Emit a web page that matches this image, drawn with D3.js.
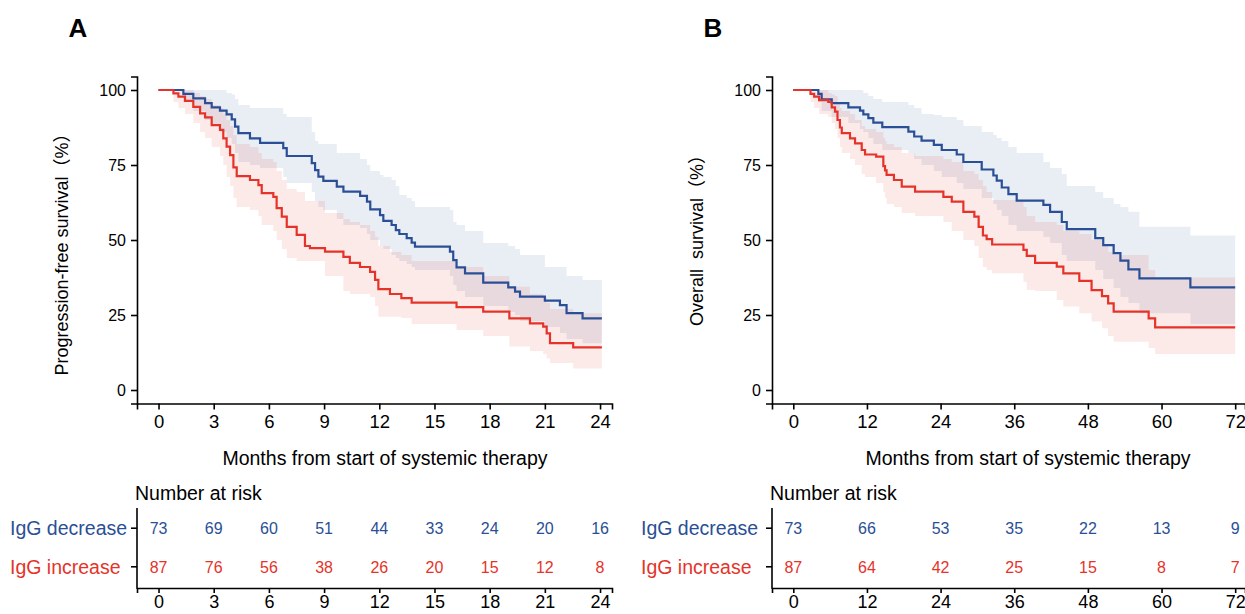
<!DOCTYPE html>
<html>
<head>
<meta charset="utf-8">
<script src="https://cdn.jsdelivr.net/npm/d3@7"></script>
<style>
  body { margin: 0; background: #fff; }
  text { font-family: "Liberation Sans", Arial, "Noto Sans CJK SC", sans-serif; }
</style>
</head>
<body>
<svg id="chart" width="1245" height="614"></svg>
<script>
// ---- data ----
const groups = ["IgG decrease", "IgG increase"];

// A: progression-free survival, IgG decrease
const pfsDecTime = [0,1.35,1.89,2.53,2.89,3.34,3.7,3.98,4.16,4.34,4.97,5.52,6.78,6.97,8.33,8.51,8.69,8.96,9.69,10.05,10.96,11.33,11.51,12.04,12.22,12.67,12.9,13.09,13.49,13.76,13.94,15.84,16.02,16.2,16.66,17.65,19.01,19.38,19.65,21.0,21.82,22.18,23.05];
const pfsDecSurv = [100,98.7,97.2,95.6,94.2,93.1,91.9,90.2,87.8,85.6,83.9,82.4,80.6,78,75.6,73.3,71.1,69.7,67.8,66.1,64.7,62.8,60.2,58.3,56.4,55,53.3,52,50.6,49.1,47.8,46.1,43.3,40.9,38.9,35.8,34.2,32.8,31.1,29.8,28.3,25.6,23.9];
const pfsDecLow  = [100,96,93,90,88,86,84,82,79,76,75,74,71,69,66,63,61,60,57,55,54,52,50,48,47,45,44,43,42,41,40,38,35,33,31,28,26,25,23,21,19,17,15.6];
const pfsDecHigh = [100,100,100,100,100,100,99,98.5,97,95,94,94,92,91,86,83,82,82,79,79,77,75,73,71.7,71,70,68,65,64,63,61,60,56,55,53,49,48,47,45,41,41,38,36.7];

// A: progression-free survival, IgG increase
const pfsIncTime = [0,0.81,1.08,1.44,1.89,2.26,2.53,2.89,3.34,3.52,3.7,3.89,4.07,4.25,4.97,5.43,5.61,6.24,6.42,6.7,6.97,7.51,7.96,8.23,9.05,10.05,10.4,10.95,11.5,11.77,11.95,12.58,13.2,13.76,16.2,17.65,19.07,20.19,20.91,21.1,21.28,22.54];
const pfsIncSurv = [100,98.9,97.8,96.4,94.4,92.2,90.9,88.3,86.7,83.9,81.1,78.3,74.2,71.3,70,68.3,65.6,64.4,60.6,57.8,54.4,51.7,48,47.3,46.1,44.4,42.4,41,39.4,36.7,33.6,32,30.6,29.1,27.6,26.1,23.9,22.2,21.1,18.9,15.6,14.2];
const pfsIncLow  = [100,96,94,92,89,86,84,81,78,75,71,68,64,61,60,58,55,53,50,47,44,43,43,43,38,33,32,32,31,28,24.4,24.4,24,22,20,18,14.5,13,12,10.5,9,7.2];
const pfsIncHigh = [100,100,100,100,99,98,97,95,94,92,90,88,85,82,81,79,77,76,73,70,67,66,63,63,59,57,56,55,53,51,48,46,45,43,41,38,34.4,32,31,29,27,25.6];
const pfsEnd = 24.1;

// B: overall survival, IgG decrease
const osDecTime = [0,4.08,4.62,6.26,8.97,10.87,11.41,12.23,13.04,14.5,18.75,19.7,20.9,22.9,24.19,26.63,27.71,30.7,32.6,33.15,33.97,35.05,36.4,40.75,41.84,43.75,44.56,49.2,50.5,52.2,53.3,54.6,56.4,64.7];
const osDecSurv = [100,98.7,96.9,95.6,94.2,93.1,91.9,90.6,89.1,87.6,86.1,84.5,83.1,81.7,80,78.5,76,73.5,71.5,69.8,67.5,65.3,63.1,61.7,59.4,56,53.6,50.6,48.3,45.6,43.1,40.2,37.2,34.2];
const osDecLow  = [100,96,93,91,89,87,86,84,82,80,79,77,75,73,71,69,67,64,62,60,58,55,53,51,49,45,43,40,37,34,31,29,25.6,22];
const osDecHigh = [100,100,100,100,100,100,99,98,97,96,95,94,92,91.7,91,90,88,86,85,84,83,81,79,76,74,72,68,66,64,62,61,59.4,54.4,51.5];

// B: overall survival, IgG increase
const osIncTime = [0,2.8,3.4,4.2,5.7,6.26,6.8,7.2,7.6,7.9,9.24,10.06,11.15,11.69,13.5,14.67,14.95,15.2,16.4,17.67,19.84,24.45,25.82,27.71,29.5,30.2,30.9,31.5,32.4,37.5,38.04,39.4,42.93,44,46.6,48.6,50.3,51.3,52.2,57.9,58.96];
const osIncSurv = [100,98.7,97.8,96.6,96,94.2,92.8,90,87.5,85.6,83.9,82.2,80,78.5,77.8,74.6,73.2,71.7,70,67.8,66.1,64.4,62.8,59.4,57.8,54.4,51.5,50.3,48.5,46.7,44.7,42.4,41.1,38.9,36.4,33.3,31.3,28.9,26.1,23.9,20.9];
const osIncLow  = [100,96,94,92,91,89,87,84,81,79,77,75,72,71,69,66,64,62,61,59,58,56,53,50,48,44,41,40,38.9,36,33.3,33,30,27.8,25.6,22.8,20.6,18,16.1,14,12];
const osIncHigh = [100,100,100,100,99,98.5,98,96,94,93,92,90,88,87,86,84,83,82,81,79,78,77,76,73,72,70,68,66,63.3,61,58,56,55,53,52,50,48,46,45,40,37.5];
const osEnd = 72;

// number at risk
const pfsRiskTimes = [0,3,6,9,12,15,18,21,24];
const pfsRiskDec = [73,69,60,51,44,33,24,20,16];
const pfsRiskInc = [87,76,56,38,26,20,15,12,8];
const osRiskTimes = [0,12,24,36,48,60,72];
const osRiskDec = [73,66,53,35,22,13,9];
const osRiskInc = [87,64,42,25,15,8,7];

const yTicks = [0,25,50,75,100];

// ---- drawing ----
const blue = "#2a4f96";
const red = "#e5332a";
const svg = d3.select("#chart");

function stepRows(time, surv, low, high, end) {
  const rows = time.map((t, i) => ({ t: t, s: surv[i], lo: low[i], hi: high[i] }));
  const last = rows[rows.length - 1];
  rows.push({ t: end, s: last.s, lo: last.lo, hi: last.hi });
  return rows;
}

function styleAxis(a, size) {
  a.selectAll("path,line").attr("stroke", "#000").attr("stroke-width", 1.6);
  a.selectAll("text").attr("font-size", size).attr("fill", "#000")
    .style("font-family", "'Liberation Sans', Arial, sans-serif");
}

function drawPanel(p) {
  const g = svg.append("g");
  const x = d3.scaleLinear().domain(p.xDomain).range(p.xRange);
  const y = d3.scaleLinear().domain([-4.5, 104.5]).range([403.5, 76.5]);

  const area = d3.area().curve(d3.curveStepAfter)
    .x(d => x(d.t)).y0(d => y(d.lo)).y1(d => y(d.hi));
  const line = d3.line().curve(d3.curveStepAfter)
    .x(d => x(d.t)).y(d => y(d.s));

  // confidence bands
  p.series.forEach(s => {
    g.append("path").datum(s.rows)
      .attr("d", area).attr("fill", s.color).attr("fill-opacity", 0.1);
  });
  // survival curves (increase drawn over decrease)
  p.series.forEach(s => {
    g.append("path").datum(s.rows)
      .attr("d", line).attr("fill", "none")
      .attr("stroke", s.color).attr("stroke-width", 2.2);
  });

  // axes
  const ax = g.append("g").attr("transform", "translate(0,403.5)")
    .call(d3.axisBottom(x).tickValues(p.ticks).tickSizeOuter(0).tickSize(6).tickPadding(5));
  const ay = g.append("g").attr("transform", `translate(${p.xRange[0]},0)`)
    .call(d3.axisLeft(y).tickValues(yTicks).tickSizeOuter(0).tickSize(6).tickPadding(5));
  styleAxis(ax, "18.5px");
  styleAxis(ay, "16px");

  g.append("text")
    .attr("x", p.xTitleX).attr("y", 465)
    .attr("text-anchor", "middle").attr("font-size", "19.5px")
    .text("Months from start of systemic therapy");

  g.append("text")
    .attr("transform", `translate(${p.yTitleX},${p.yTitleY}) rotate(-90)`)
    .attr("text-anchor", "middle").attr("font-size", "18px")
    .style("white-space", "pre")
    .text(p.yTitle);

  g.append("text")
    .attr("x", p.letterX).attr("y", 37)
    .attr("text-anchor", "middle").attr("font-size", "26px").attr("font-weight", "bold")
    .text(p.letter);

  // number at risk table
  const ry = d3.scalePoint().domain(groups).range([507, 588]).padding(0.55);
  g.append("text").attr("x", p.xRange[0] - 2).attr("y", 500)
    .attr("font-size", "19.5px").text("Number at risk");

  g.append("line")
    .attr("x1", p.xRange[0]).attr("x2", p.xRange[0])
    .attr("y1", 508).attr("y2", 588.8)
    .attr("stroke", "#000").attr("stroke-width", 1.6);
  const rx = g.append("g").attr("transform", "translate(0,588)")
    .call(d3.axisBottom(x).tickValues(p.riskTimes).tickSizeOuter(0).tickSize(5).tickPadding(2));
  styleAxis(rx, "18px");

  const riskRows = [
    { name: groups[0], color: blue, n: p.riskDec },
    { name: groups[1], color: red, n: p.riskInc }
  ];
  riskRows.forEach(r => {
    const yy = ry(r.name);
    g.append("line")
      .attr("x1", p.xRange[0] - 6).attr("x2", p.xRange[0])
      .attr("y1", yy).attr("y2", yy)
      .attr("stroke", "#000").attr("stroke-width", 1.6);
    g.append("text").attr("x", p.rowLabelX).attr("y", yy).attr("dy", "0.36em")
      .attr("font-size", "19.5px").attr("fill", r.color).text(r.name);
    g.selectAll(null).data(r.n).enter().append("text")
      .attr("x", (d, i) => x(p.riskTimes[i])).attr("y", yy).attr("dy", "0.36em")
      .attr("text-anchor", "middle").attr("font-size", "16px")
      .attr("fill", r.color).text(d => d);
  });
}

drawPanel({
  letter: "A", letterX: 78,
  xDomain: [-1.17, 24.65], xRange: [137, 612],
  ticks: pfsRiskTimes, riskTimes: pfsRiskTimes,
  riskDec: pfsRiskDec, riskInc: pfsRiskInc,
  xTitleX: 385,
  yTitle: "Progression-free survival（%）", yTitleX: 68, yTitleY: 250,
  rowLabelX: 10,
  series: [
    { color: blue, rows: stepRows(pfsDecTime, pfsDecSurv, pfsDecLow, pfsDecHigh, pfsEnd) },
    { color: red, rows: stepRows(pfsIncTime, pfsIncSurv, pfsIncLow, pfsIncHigh, pfsEnd) }
  ]
});

drawPanel({
  letter: "B", letterX: 713,
  xDomain: [-3.47, 73.6], xRange: [772, 1245],
  ticks: osRiskTimes, riskTimes: osRiskTimes,
  riskDec: osRiskDec, riskInc: osRiskInc,
  xTitleX: 1028,
  yTitle: "Overall  survival（%）", yTitleX: 703, yTitleY: 236,
  rowLabelX: 641,
  series: [
    { color: blue, rows: stepRows(osDecTime, osDecSurv, osDecLow, osDecHigh, osEnd) },
    { color: red, rows: stepRows(osIncTime, osIncSurv, osIncLow, osIncHigh, osEnd) }
  ]
});
</script>
</body>
</html>
